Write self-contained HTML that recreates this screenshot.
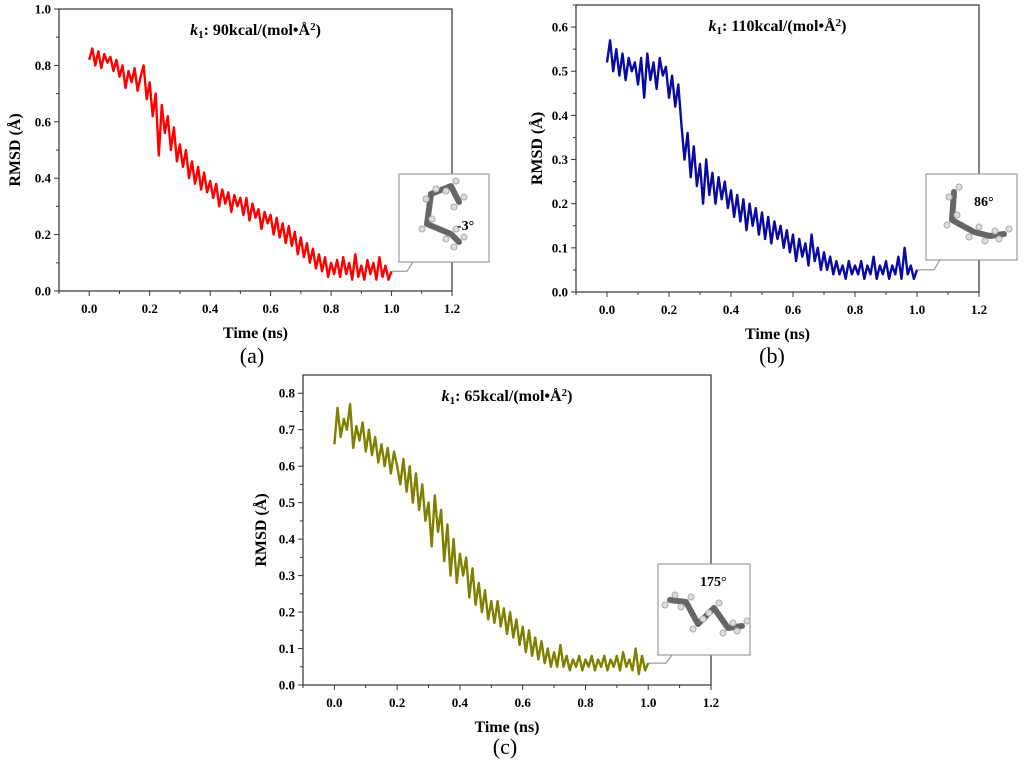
<!DOCTYPE html>
<html><head><meta charset="utf-8"><style>
body{margin:0;background:#fff;width:1024px;height:768px;overflow:hidden}
svg text{font-family:"Liberation Serif",serif}
</style></head><body>
<svg id="fig" width="1024" height="768" viewBox="0 0 1024 768" xmlns="http://www.w3.org/2000/svg"></svg>
<script>
const timeStep = 0.01;
const xTicks = [0.0,0.2,0.4,0.6,0.8,1.0,1.2];
const yTicksA = [0.0,0.2,0.4,0.6,0.8,1.0];
const yTicksB = [0.0,0.1,0.2,0.3,0.4,0.5,0.6];
const yTicksC = [0.0,0.1,0.2,0.3,0.4,0.5,0.6,0.7,0.8];
const rmsdA = [0.82,0.86,0.80,0.85,0.79,0.84,0.81,0.83,0.78,0.82,0.76,
0.80,0.72,0.78,0.74,0.79,0.71,0.76,0.80,0.68,0.74,
0.62,0.70,0.48,0.66,0.56,0.62,0.50,0.58,0.46,0.52,
0.44,0.50,0.40,0.46,0.38,0.44,0.36,0.42,0.35,0.39,
0.33,0.38,0.30,0.36,0.31,0.35,0.28,0.34,0.30,0.33,
0.27,0.33,0.25,0.31,0.26,0.29,0.22,0.28,0.24,0.27,
0.20,0.26,0.19,0.24,0.17,0.23,0.16,0.21,0.13,0.19,
0.12,0.17,0.10,0.15,0.08,0.13,0.07,0.12,0.05,0.10,
0.06,0.11,0.05,0.12,0.06,0.10,0.04,0.13,0.05,0.09,
0.04,0.11,0.06,0.10,0.04,0.12,0.05,0.09,0.04,0.07];
const rmsdB = [0.52,0.57,0.50,0.55,0.49,0.54,0.48,0.53,0.50,0.52,0.47,
0.53,0.44,0.54,0.48,0.52,0.46,0.53,0.49,0.51,0.44,
0.49,0.42,0.47,0.38,0.30,0.36,0.26,0.33,0.24,0.29,
0.20,0.30,0.22,0.27,0.20,0.26,0.21,0.25,0.19,0.23,
0.17,0.22,0.16,0.21,0.14,0.20,0.15,0.19,0.13,0.18,
0.12,0.17,0.11,0.16,0.12,0.15,0.10,0.14,0.09,0.13,
0.07,0.12,0.08,0.11,0.06,0.13,0.07,0.10,0.05,0.09,
0.05,0.08,0.04,0.07,0.04,0.06,0.03,0.07,0.04,0.06,
0.04,0.07,0.03,0.06,0.04,0.08,0.03,0.06,0.04,0.07,
0.03,0.06,0.04,0.08,0.03,0.10,0.04,0.06,0.03,0.05];
const rmsdC = [0.66,0.76,0.68,0.73,0.70,0.77,0.65,0.71,0.67,0.72,0.64,
0.70,0.63,0.68,0.61,0.66,0.60,0.65,0.58,0.64,0.60,
0.55,0.62,0.53,0.60,0.50,0.58,0.48,0.55,0.45,0.50,
0.38,0.52,0.42,0.48,0.34,0.44,0.30,0.40,0.28,0.36,
0.30,0.35,0.24,0.32,0.22,0.28,0.20,0.26,0.18,0.23,
0.17,0.23,0.16,0.21,0.14,0.20,0.13,0.18,0.11,0.16,
0.09,0.15,0.08,0.13,0.07,0.12,0.06,0.10,0.05,0.09,
0.05,0.11,0.05,0.08,0.04,0.07,0.05,0.08,0.04,0.07,
0.05,0.08,0.04,0.07,0.05,0.08,0.04,0.07,0.05,0.08,
0.04,0.09,0.05,0.07,0.04,0.10,0.03,0.08,0.04,0.06];

const NS="http://www.w3.org/2000/svg";
const svg=document.getElementById('fig');
function mk(tag,attrs,parent,txt){const e=document.createElementNS(NS,tag);for(const k in attrs)e.setAttribute(k,attrs[k]);if(txt!==undefined)e.textContent=txt;(parent||svg).appendChild(e);return e;}

function panel(p){
  const g=mk('g',{});
  
  
  const X=v=>p.x0+(v-(-0.1))/(1.3)*(p.x1-p.x0);
  const Y=v=>p.y1-(v/p.ymax)*(p.y1-p.y0);
  const box=mk('rect',{x:p.x0,y:p.y0,width:p.x1-p.x0,height:p.y1-p.y0,fill:'none',stroke:'#333','stroke-width':1.2},g);
  
  
  xTicks.forEach((t,i)=>{
    mk('line',{x1:X(t),x2:X(t),y1:p.y1,y2:p.y1+5,stroke:'#333'},g);
    if(i<xTicks.length-1)mk('line',{x1:X(t+0.1),x2:X(t+0.1),y1:p.y1,y2:p.y1+3,stroke:'#333'},g);
    const tl=mk('text',{x:X(t),y:p.y1+22,'text-anchor':'middle','font-size':13,'font-weight':'bold'},g,t.toFixed(1));
    
    
  });
  mk('line',{x1:X(-0.1),x2:X(-0.1),y1:p.y1,y2:p.y1+3,stroke:'#333'},g);
  p.yt.forEach((t,i)=>{
    mk('line',{x1:p.x0-5,x2:p.x0,y1:Y(t),y2:Y(t),stroke:'#333'},g);
    const half=(p.yt[1]-p.yt[0])/2;
    if(t+half<=p.ymax)mk('line',{x1:p.x0-3,x2:p.x0,y1:Y(t+half),y2:Y(t+half),stroke:'#333'},g);
    const tl=mk('text',{x:p.x0-8,y:Y(t)+4.5,'text-anchor':'end','font-size':13,'font-weight':'bold'},g,t.toFixed(1));
    
    
  });
  const xt=mk('text',{x:(p.x0+p.x1)/2,y:p.y1+47,'text-anchor':'middle','font-size':16,'font-weight':'bold'},g,'Time (ns)');
  
  
  const yc=(p.y0+p.y1)/2;
  const yt=mk('text',{x:p.ylx,y:yc,'text-anchor':'middle','font-size':16,'font-weight':'bold',transform:`rotate(-90 ${p.ylx} ${yc})`},g,'RMSD (Å)');
  
  
  const ti=mk('text',{x:(p.x0+p.x1)/2,y:p.y0+26,'text-anchor':'middle','font-size':16,'font-weight':'bold'},g);
  
  
  mk('tspan',{'font-style':'italic'},ti,'k');
  mk('tspan',{'font-size':11,dy:3},ti,'1');
  mk('tspan',{dy:-3},ti,': '+p.k+'kcal/(mol•Å');
  mk('tspan',{'font-size':11,dy:-5},ti,'2');
  mk('tspan',{dy:5},ti,')');
  let d='';
  p.data.forEach((v,i)=>{d+=(i?'L':'M')+X(i*timeStep).toFixed(1)+','+Y(v).toFixed(1);});
  const ln=mk('path',{d:d,fill:'none',stroke:p.color,'stroke-width':2.4,'stroke-linejoin':'round'},g);
  
  
  const ins=mk('g',{},g);
  
  
  const ix=p.ins[0],iy=p.ins[1],iw=p.ins[2],ih=p.ins[3];
  const endY=Y(p.data[p.data.length-1]);
  mk('path',{d:`M${X(1.0)},${endY}L${ix+8},${endY}L${ix+14},${iy+ih}L${ix+36},${iy+ih}`,fill:'none',stroke:'#888'},ins);
  mk('rect',{x:ix,y:iy,width:iw,height:ih,fill:'#fff',stroke:'#888'},ins);
  let m='';
  p.mol.forEach((pt,i)=>{m+=(i?'L':'M')+(ix+pt[0])+','+(iy+pt[1]);});
  mk('path',{d:m,fill:'none',stroke:'#666','stroke-width':6,'stroke-linecap':'round','stroke-linejoin':'round'},ins);
  p.mol.forEach(pt=>{mk('circle',{cx:ix+pt[0]+5,cy:iy+pt[1]-5,r:3,fill:'#ddd',stroke:'#aaa'},ins);mk('circle',{cx:ix+pt[0]-5,cy:iy+pt[1]+5,r:3,fill:'#ddd',stroke:'#aaa'},ins);});
  const at=mk('text',{x:ix+p.lab[0],y:iy+p.lab[1],'font-size':14,'font-weight':'bold'},ins,p.angle);
  
  
  const pl=mk('text',{x:p.plx,y:p.ply,'text-anchor':'middle','font-size':22},g,p.label);
  
  
}
panel({id:'a',x0:59,x1:452,y0:9,y1:291,ymax:1.0,yt:yTicksA,data:rmsdA,color:'#ff0000',k:'90',ylx:20,
  ins:[399,174,90,88],mol:[[32,20],[52,12],[60,28],[52,12],[32,20],[28,50],[52,60],[60,68]],angle:'-3°',lab:[58,56],label:'(a)',plx:252,ply:363});
panel({id:'b',x0:576,x1:979,y0:5,y1:292,ymax:0.65,yt:yTicksB,data:rmsdB,color:'#0a0aa0',k:'110',ylx:542,
  ins:[926,174,91,86],mol:[[28,18],[26,46],[48,58],[64,62],[78,60]],angle:'86°',lab:[48,32],label:'(b)',plx:772,ply:363});
panel({id:'c',x0:303,x1:711,y0:375,y1:685,ymax:0.85,yt:yTicksC,data:rmsdC,color:'#808000',k:'65',ylx:266,
  ins:[658,564,92,91],mol:[[12,36],[28,38],[40,60],[56,44],[70,64],[84,62]],angle:'175°',lab:[42,22],label:'(c)',plx:505,ply:754});
</script>
</body></html>
